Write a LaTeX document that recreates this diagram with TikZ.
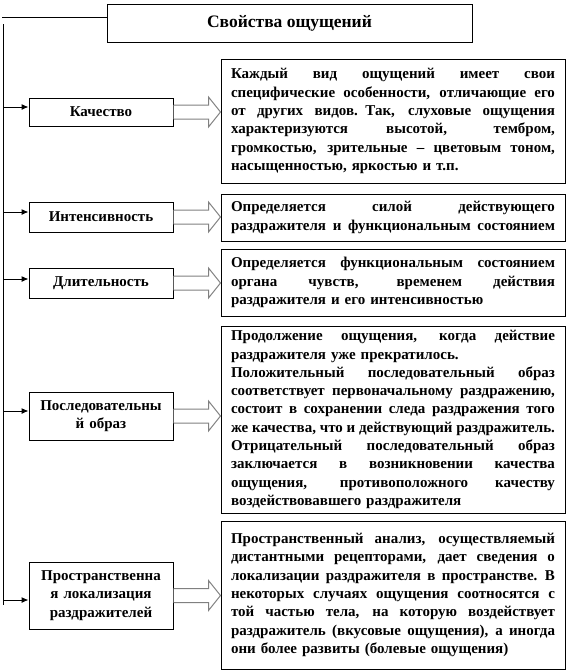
\documentclass[tikz,border=0pt]{standalone}
\usepackage{fontspec}
\setmainfont{Liberation Serif}
\usetikzlibrary{arrows.meta,calc}
\newcommand\J[1]{{\spaceskip=0.25em plus 20em minus 0.05em\makebox[\linewidth][s]{#1}}}
\begin{document}
\begin{tikzpicture}[x=1pt,y=-1pt,
  every node/.style={font=\bfseries\fontsize{15}{18.3}\selectfont},
  titlebox/.style={draw,line width=1pt,minimum width=365,minimum height=38,inner sep=0pt,font=\bfseries\fontsize{17.5}{20}\selectfont},
  leftbox/.style={draw,line width=1pt,minimum width=144,text width=136,align=center,inner xsep=4,inner ysep=0pt},
  descbox/.style={draw,line width=1pt,text width=324,inner xsep=10,inner ysep=0pt,align=left},
  trunk/.style={line width=1pt},
  tarrow/.style={line width=1pt,-{Latex[length=7pt,width=6pt]}},
  blockarrow/.style={draw=black!50,line width=1pt,fill=white,line join=miter}
]
\useasboundingbox (0,0) rectangle (571,672);

% title
\node[titlebox] (title) at (289.5,23) {Свойства ощущений};
\coordinate (tl) at (2,17);
\draw[trunk] (tl) -- (title.west |- tl);
\coordinate (ttop) at (3,24);
\coordinate (tbot) at (3,605);
\draw[trunk] (ttop) -- (tbot);

% left boxes
\node[leftbox,minimum height=28] (kach) at (101,112) {Качество};
\node[leftbox,minimum height=30] (inten) at (101,217) {Интенсивность};
\node[leftbox,minimum height=30] (dlit) at (101,283) {Длительность};
\node[leftbox,minimum height=48] (posl) at (101,416) {Последовательны\\й образ};
\node[leftbox,minimum height=67] (prost) at (101,595.5) {Пространственна\\я локализация\\раздражителей};

% description boxes
\node[descbox,minimum height=124] (d1) at (393,121) {\J{Каждый вид ощущений имеет свои}\\
\J{специфические особенности, отличающие его}\\
\J{от других видов. Так, слуховые ощущения}\\
\J{характеризуются высотой, тембром,}\\
\J{громкостью, зрительные – цветовым тоном,}\\
насыщенностью, яркостью и т.п.};
\node[descbox,minimum height=47] (d2) at (393,217.5) {\J{Определяется силой действующего}\\
\J{раздражителя и функциональным состоянием}};
\node[descbox,minimum height=67] (d3) at (393,282.5) {\J{Определяется функциональным состоянием}\\
\J{органа чувств, временем действия}\\
раздражителя и его интенсивностью};
\node[descbox,minimum height=187] (d4) at (393,419.5) {\J{Продолжение ощущения, когда действие}\\
раздражителя уже прекратилось.\\
\J{Положительный последовательный образ}\\
\J{соответствует первоначальному раздражению,}\\
\J{состоит в сохранении следа раздражения того}\\
\J{же качества, что и действующий раздражитель.}\\
\J{Отрицательный последовательный образ}\\
\J{заключается в возникновении качества}\\
\J{ощущения, противоположного качеству}\\
воздействовавшего раздражителя};
\node[descbox,minimum height=148] (d5) at (393,595) {\J{Пространственный анализ, осуществляемый}\\
\J{дистантными рецепторами, дает сведения о}\\
\J{локализации раздражителя в пространстве. В}\\
\J{некоторых случаях ощущения соотносятся с}\\
\J{той частью тела, на которую воздействует}\\
\J{раздражитель (вкусовые ощущения), а иногда}\\
они более развиты (болевые ощущения)};

% trunk arrows
\coordinate (t1) at (3,107);
\coordinate (t2) at (3,212);
\coordinate (t3) at (3,279);
\coordinate (t4) at (3,411);
\coordinate (t5) at (3,600);
\draw[tarrow] (t1) -- (kach.west |- t1);
\draw[tarrow] (t2) -- (inten.west |- t2);
\draw[tarrow] (t3) -- (dlit.west |- t3);
\draw[tarrow] (t4) -- (posl.west |- t4);
\draw[tarrow] (t5) -- (prost.west |- t5);

% block arrows
\foreach \a/\d in {kach/d1,inten/d2,dlit/d3,posl/d4,prost/d5}{
  \draw[blockarrow] ($(\a.east)+(0,-7)$) -- ($(\d.west |- \a.east)+(-12,-7)$)
    -- ($(\d.west |- \a.east)+(-12,-15)$) -- (\d.west |- \a.east)
    -- ($(\d.west |- \a.east)+(-12,15)$) -- ($(\d.west |- \a.east)+(-12,7)$)
    -- ($(\a.east)+(0,7)$);
}
\end{tikzpicture}
\end{document}
